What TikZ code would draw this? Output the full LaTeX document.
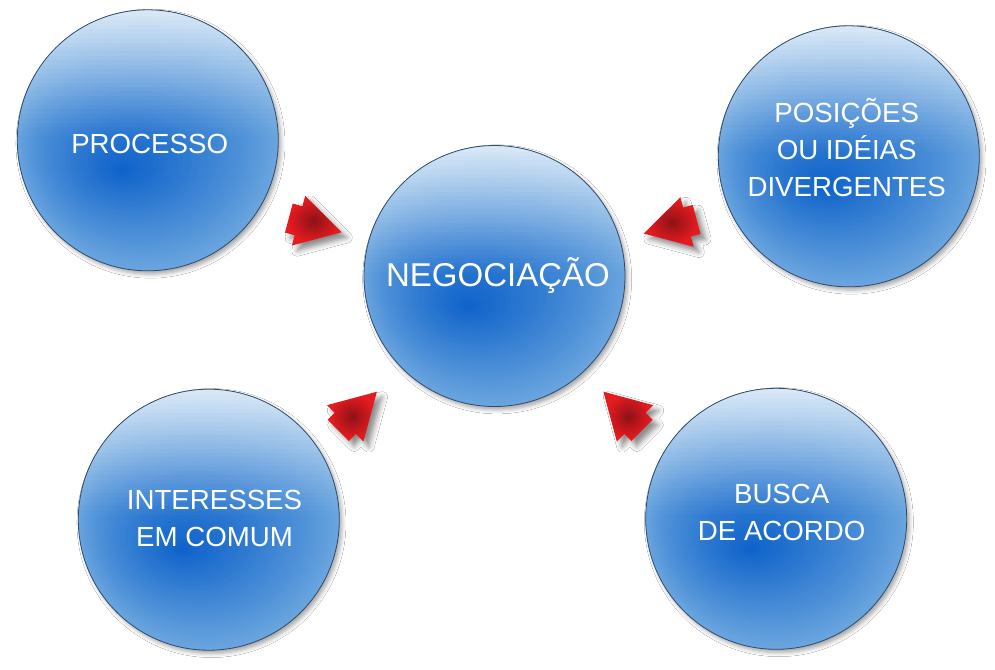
\documentclass[tikz,border=0pt]{standalone}
\usepackage{fontspec}
\setmainfont{Liberation Sans}
\usetikzlibrary{shadows.blur,calc}

\definecolor{bCore}{HTML}{0C61CA}
\definecolor{bEdge}{HTML}{6AA5DE}
\definecolor{bubbleline}{HTML}{2E4B6E}
\definecolor{rdark}{HTML}{8C1216}
\definecolor{rmid}{HTML}{B5161B}
\definecolor{rbright}{HTML}{E41B1F}

\pgfdeclareradialshading{arrowshade}{\pgfpointorigin}{%
  color(0bp)=(rdark); color(10bp)=(rmid); color(22bp)=(rbright); color(50bp)=(rbright)}

\tikzset{
  bubble/.style={circle, minimum size=195.75pt, inner sep=0pt, draw=bubbleline,
    line width=0.6pt, fill=bEdge,
    blur shadow={shadow xshift=2pt, shadow yshift=-2.5pt, shadow blur radius=3pt, shadow opacity=35},
    path picture={
      \foreach \i in {0,...,39}{
        \pgfmathsetmacro\s{1-\i/40}
        \pgfmathsetmacro\p{100*(\s^0.9)}
        \pgfmathsetmacro\dx{-19.5*(1-\s)}
        \pgfmathsetmacro\dy{-23.25*(1-\s)}
        \pgfmathsetmacro\rx{97.875*\s*(1+0.5*(1-\s))}
        \pgfmathsetmacro\ry{97.875*\s}
        \fill[bEdge!\p!bCore] ($(path picture bounding box.center)+(\dx pt,\dy pt)$)
          ellipse [x radius=\rx pt, y radius=\ry pt];
      }
      \begin{scope}[shift={(path picture bounding box.center)}, rotate=-25]
        \foreach \j in {0,...,29}{
          \pgfmathsetmacro\ya{100*\j/30}
          \pgfmathsetmacro\yb{100*(\j+1)/30}
          \pgfmathsetmacro\op{0.78*((\j+0.5)/30)^1.25}
          \fill[white, opacity=\op] (-120pt,\ya pt) rectangle (120pt,\yb pt);
        }
      \end{scope}
    }},
  lbl/.style={text=white, align=center, inner sep=0pt, font=\fontsize{20.75}{27.75}\selectfont},
  biglbl/.style={lbl, font=\fontsize{24.75}{28}\selectfont},
  arrowfill/.style={shading=arrowshade,
    blur shadow={shadow xshift=4pt, shadow yshift=-4pt, shadow blur radius=4pt, shadow opacity=45}},
  redarrow/.pic={\path[arrowfill] (44.7,0) -- (0,25.7) -- (0,15) -- (-10,15) -- (-10,-15) -- (0,-15) -- (0,-25.7) -- cycle;}
}

\begin{document}
\begin{tikzpicture}[x=0.75pt,y=-0.75pt]
\fill[white] (0,0) rectangle (995,669);
\useasboundingbox (0,0) rectangle (995,669);

% circles
\node[bubble] (proc) at (147.8,140.3) {};
\node[bubble] (neg)  at (494.5,276) {};
\node[bubble] (pos)  at (848.8,156.3) {};
\node[bubble] (int)  at (208.8,519.7) {};
\node[bubble] (bus)  at (776.2,518.8) {};

% labels
\node[lbl]    (procT) at (149.7,144.3) {PROCESSO};
\node[biglbl] (negT)  at (498,275.3) {NEGOCIAÇÃO};
\node[lbl]    (posT)  at (846.7,147.5) {POSIÇÕES\\OU IDÉIAS\\DIVERGENTES};
\node[lbl]    (intT)  at (214.5,518.3) {INTERESSES\\EM COMUM};
\node[lbl]    (busT)  at (781.7,512.3) {BUSCA\\DE ACORDO};

% arrows
\pic[rotate=-15] (a1) at (298.5,220.7) {redarrow};
\pic[rotate=195] (a2) at (687,222) {redarrow};
\pic[rotate=45]  (a3) at (345.3,423.3) {redarrow};
\pic[rotate=135] (a4) at (635,423.3) {redarrow};
\end{tikzpicture}
\end{document}
